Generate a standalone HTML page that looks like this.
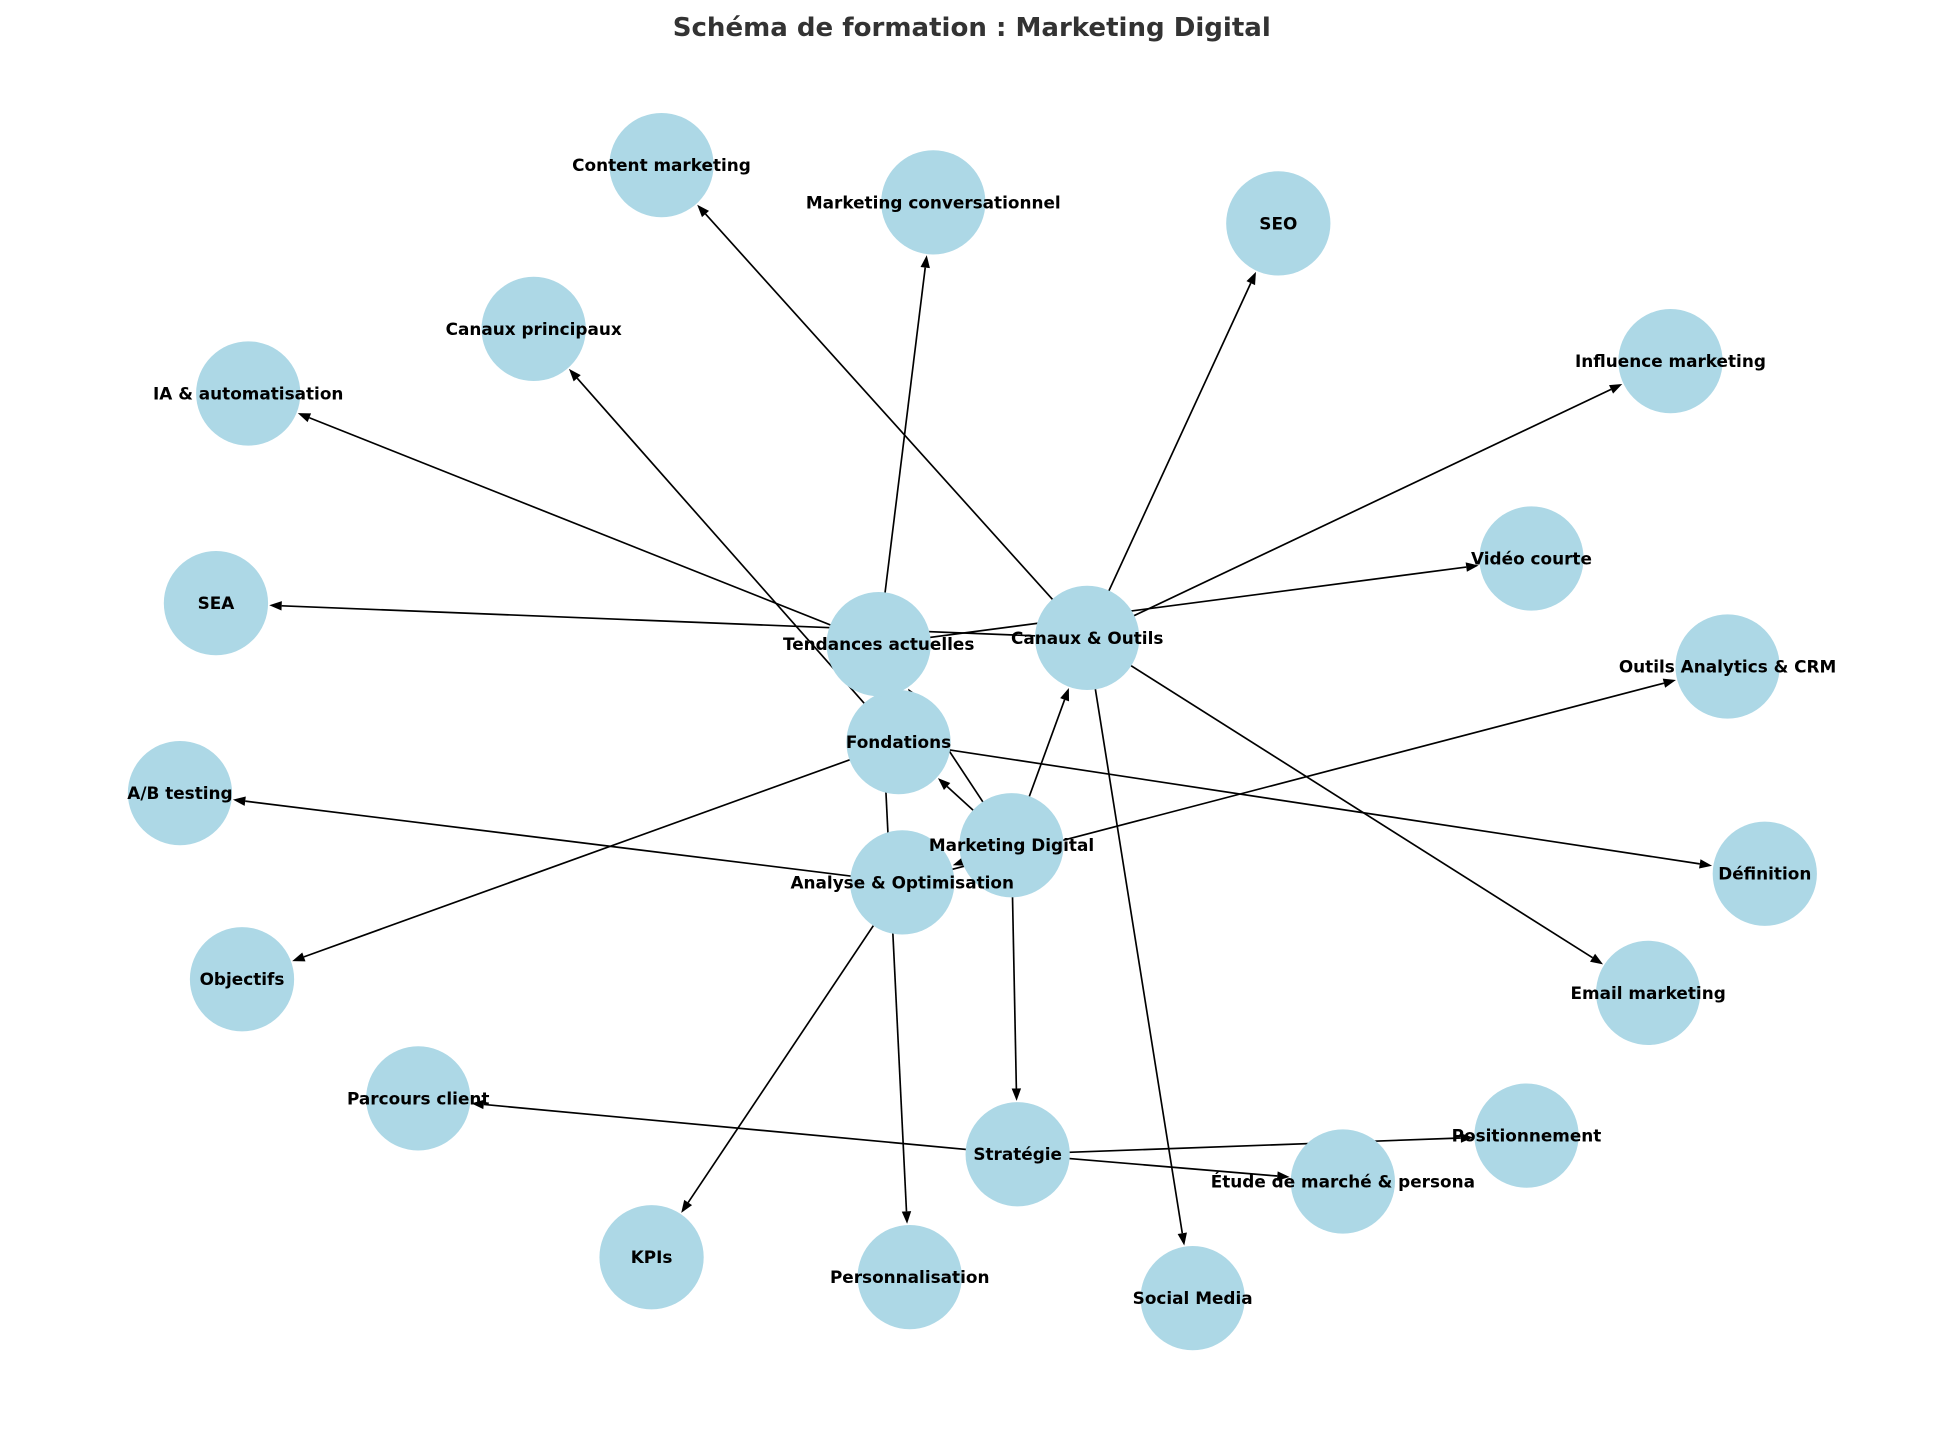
<!DOCTYPE html>
<html><head><meta charset="utf-8">
<style>
html,body{margin:0;padding:0;background:#fff;}
svg{display:block;}
text{font-family:"DejaVu Sans","Liberation Sans",sans-serif;font-weight:bold;}
</style></head>
<body>
<svg id="s" width="1946" height="1431" viewBox="0 0 1568 1153" xmlns="http://www.w3.org/2000/svg">
<rect width="1568" height="1153" fill="#fff"/>
<text x="783" y="29" text-anchor="middle" font-size="21" fill="#333">Schéma de formation : Marketing Digital</text>
<g id="edges"></g>
<g id="nodes"></g>
</svg>
<script>
var N={
"Marketing Digital":[815,681],
"Fondations":[724,598],
"Canaux & Outils":[876,514],
"Tendances actuelles":[708,519],
"Analyse & Optimisation":[727,711],
"Stratégie":[820,930],
"Content marketing":[533,133],
"Marketing conversationnel":[752,163],
"SEO":[1030,180],
"Canaux principaux":[430,265],
"IA & automatisation":[200,317],
"Influence marketing":[1346,291],
"Vidéo courte":[1234,450],
"SEA":[174,486],
"Outils Analytics & CRM":[1392,537],
"A/B testing":[145,639],
"Définition":[1422,704],
"Objectifs":[195,789],
"Email marketing":[1328,800],
"Parcours client":[337,885],
"Positionnement":[1230,915],
"Étude de marché & persona":[1082,952],
"KPIs":[525,1013],
"Personnalisation":[733,1029],
"Social Media":[961,1046]
};
var E=[
["Marketing Digital","Fondations"],["Marketing Digital","Canaux & Outils"],["Marketing Digital","Stratégie"],
["Marketing Digital","Tendances actuelles"],
["Fondations","Définition"],["Fondations","Objectifs"],["Fondations","Canaux principaux"],
["Canaux & Outils","Content marketing"],["Canaux & Outils","SEO"],["Canaux & Outils","Influence marketing"],
["Canaux & Outils","SEA"],["Canaux & Outils","Email marketing"],["Canaux & Outils","Social Media"],
["Tendances actuelles","IA & automatisation"],["Tendances actuelles","Marketing conversationnel"],
["Tendances actuelles","Personnalisation"],["Tendances actuelles","Vidéo courte"],
["Analyse & Optimisation","A/B testing"],["Analyse & Optimisation","KPIs"],["Analyse & Optimisation","Outils Analytics & CRM"],
["Marketing Digital","Analyse & Optimisation"],
["Stratégie","Parcours client"],["Stratégie","Positionnement"],["Stratégie","Étude de marché & persona"]
];
var ns="http://www.w3.org/2000/svg",R=42;
var eg=document.getElementById("edges"),ng=document.getElementById("nodes");
function el(t,a,p){var e=document.createElementNS(ns,t);for(var k in a)e.setAttribute(k,a[k]);p.appendChild(e);return e;}
E.forEach(function(e){
 var a=N[e[0]],b=N[e[1]],dx=b[0]-a[0],dy=b[1]-a[1],L=Math.hypot(dx,dy),ux=dx/L,uy=dy/L;
 var tx=b[0]-ux*(R+1),ty=b[1]-uy*(R+1),h=10,w=3.8;
 var bx=tx-ux*h,by=ty-uy*h;
 el("line",{x1:a[0],y1:a[1],x2:bx,y2:by,stroke:"#000","stroke-width":1.35},eg);
 el("polygon",{points:tx+","+ty+" "+(bx-uy*w)+","+(by+ux*w)+" "+(bx+uy*w)+","+(by-ux*w),fill:"#000"},eg);
});
for(var k in N){
 el("circle",{cx:N[k][0],cy:N[k][1],r:R,fill:"#add8e6"},ng);
}
for(var k in N){
 var t=el("text",{x:N[k][0],y:N[k][1]+4.8,"text-anchor":"middle","font-size":"13.6",fill:"#000"},ng);
 t.textContent=k;
}
</script>
</body></html>
